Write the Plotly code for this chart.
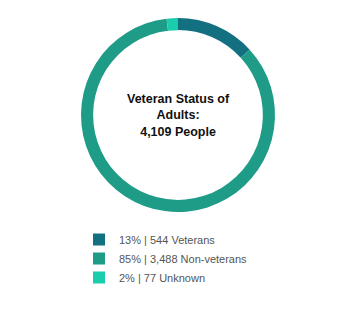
import plotly.graph_objects as go

categories = ["Veterans", "Non-veterans", "Unknown"]
counts = [544, 3488, 77]
percents = [13, 85, 2]
colors = ["#127080", "#1e9c87", "#1acdac"]
title_lines = ["Veteran Status of", "Adults:", "4,109 People"]

labels = [f"{p}% | {c:,} {n}" for p, c, n in zip(percents, counts, categories)]

W, H = 355, 331
cx, cy, r = 178, 115, 97

fig = go.Figure(go.Pie(
    labels=labels,
    values=counts,
    marker=dict(colors=colors, line=dict(width=0)),
    hole=0.875,
    sort=False,
    direction="clockwise",
    rotation=0,
    textinfo="none",
    hoverinfo="none",
    domain=dict(x=[(cx - r) / W, (cx + r) / W], y=[1 - (cy + r) / H, 1 - (cy - r) / H]),
))

fig.add_annotation(
    x=cx / W, y=1 - cy / H, xref="paper", yref="paper",
    text="<br>".join(f"<b>{t}</b>" for t in title_lines),
    showarrow=False,
    font=dict(family="Liberation Sans, Arial", size=12.5, color="#111111"),
    align="center",
)

fig.update_layout(
    width=W, height=H,
    margin=dict(l=0, r=0, t=0, b=0, autoexpand=False),
    paper_bgcolor="white",
    plot_bgcolor="white",
    showlegend=True,
    legend=dict(
        x=79 / W, y=1 - 225 / H, xanchor="left", yanchor="top",
        font=dict(family="Liberation Sans, Arial", size=11, color="#555555"),
        bgcolor="rgba(0,0,0,0)",
        itemclick=False, itemdoubleclick=False,
    ),
)

fig.write_html("out.html")
